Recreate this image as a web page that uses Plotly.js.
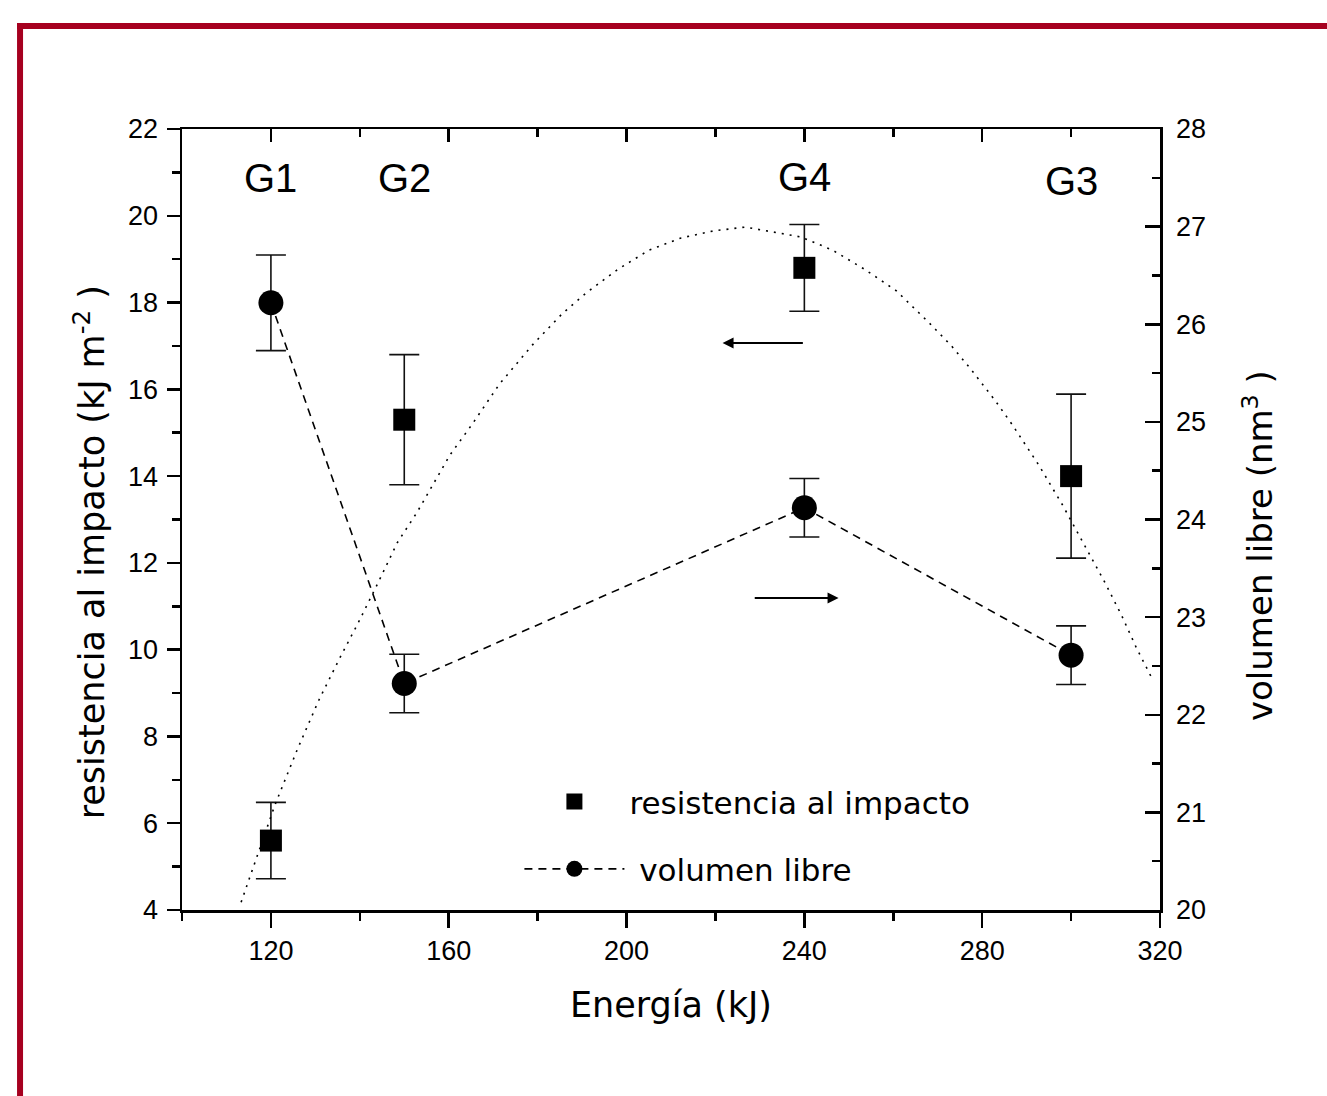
<!DOCTYPE html>
<html>
<head>
<meta charset="utf-8">
<script src="https://cdn.plot.ly/plotly-3.0.1.min.js"></script>
<style>html,body{margin:0;padding:0;background:#fff;}#chart{width:1327px;height:1096px;}</style>
</head>
<body>
<div id="chart"></div>
<script>
// Data
const energia = [120, 150, 240, 300];
const resistencia = [5.6, 15.3, 18.8, 14.0];
const resistenciaErr = [0.88, 1.5, 1.0, 1.89];
const volumen = [26.22, 22.32, 24.12, 22.61];
const volumenErr = [0.49, 0.3, 0.3, 0.3];

// Dotted guide curve (left axis units)
const curvaX = [113.3,116.4,120.9,125.9,130.8,135.6,139.6,144.1,148.4,152.9,160.3,165.3,171.4,178.8,185.5,190.9,198.1,205.1,212.3,219.5,226.7,239.3,246.3,253.5,260.7,267.9,273.1,277.4,283.0,286.8,292.7,298.1,303.9,307.8,311.4,314.7,318.3];
const curvaY = [4.18,5.11,6.42,7.69,8.84,9.83,10.61,11.54,12.46,13.17,14.49,15.20,16.12,17.02,17.74,18.22,18.77,19.21,19.49,19.65,19.74,19.51,19.21,18.77,18.27,17.55,17.00,16.47,15.73,15.18,14.26,13.33,12.25,11.51,10.78,10.04,9.32];

const grupos = ['G1', 'G2', 'G4', 'G3'];
const grupoX = [120, 150, 240, 300];
const grupoY = [20.87, 20.87, 20.9, 20.8];

const FONT = 'Liberation Sans, Arial, sans-serif';
const WIDE = 'DejaVu Sans, Verdana, sans-serif';

const traces = [
  {
    x: curvaX, y: curvaY, xaxis: 'x2', yaxis: 'y',
    mode: 'lines', showlegend: false, hoverinfo: 'skip',
    line: {color: '#000', width: 1.6, dash: '2px,6px'}
  },
  {
    x: energia, y: resistencia, xaxis: 'x', yaxis: 'y',
    name: 'resistencia al impacto', legendgroup: 'a',
    mode: 'markers',
    marker: {symbol: 'square', size: 22, color: '#000'},
    error_y: {type: 'data', array: resistenciaErr, visible: true, color: '#111', thickness: 1.6, width: 15}
  },
  {
    x: energia, y: volumen, xaxis: 'x', yaxis: 'y2',
    name: '\u00a0volumen libre', legendgroup: 'b',
    mode: 'lines+markers',
    line: {color: '#000', width: 1.6, dash: '8px,6px'},
    marker: {symbol: 'circle', size: 25, color: '#000'},
    error_y: {type: 'data', array: volumenErr, visible: true, color: '#111', thickness: 1.6, width: 15}
  }
];

const annotations = grupos.map((g, i) => ({
  x: grupoX[i], y: grupoY[i], xref: 'x', yref: 'y', text: g, showarrow: false,
  font: {family: FONT, size: 40, color: '#000'}, xanchor: 'center', yanchor: 'middle'
}));

annotations.push(
  {x: 221.6, y: 17.07, ax: 240, ay: 17.07, xref: 'x', yref: 'y', axref: 'x', ayref: 'y',
   text: '', showarrow: true, arrowhead: 2, arrowsize: 1.1, arrowwidth: 2, arrowcolor: '#000'},
  {x: 247.7, y: 11.19, ax: 228.5, ay: 11.19, xref: 'x', yref: 'y', axref: 'x', ayref: 'y',
   text: '', showarrow: true, arrowhead: 2, arrowsize: 1.1, arrowwidth: 2, arrowcolor: '#000'},
  {x: -0.094, y: 0.458, xref: 'paper', yref: 'paper', textangle: -90, showarrow: false,
   text: 'resistencia al impacto (kJ m<sup>-2</sup> )', xanchor: 'center', yanchor: 'middle',
   font: {family: WIDE, size: 35, color: '#000'}},
  {x: 1.1, y: 0.467, xref: 'paper', yref: 'paper', textangle: -90, showarrow: false,
   text: 'volumen libre (nm<sup>3</sup> )', xanchor: 'center', yanchor: 'middle',
   font: {family: WIDE, size: 34, color: '#000'}}
);

const axisCommon = {
  showgrid: false, zeroline: false, showline: true, linecolor: '#000', linewidth: 2.5,
  tickcolor: '#000', tickwidth: 2.5,
  tickfont: {family: FONT, size: 27, color: '#000'}
};

const layout = {
  width: 1327, height: 1096,
  margin: {l: 182, r: 167, t: 129, b: 186},
  paper_bgcolor: '#fff', plot_bgcolor: 'rgba(0,0,0,0)',
  font: {family: FONT, color: '#000'},
  xaxis: Object.assign({}, axisCommon, {
    range: [100, 320], tick0: 120, dtick: 40, ticks: 'outside', ticklen: 15,
    minor: {dtick: 20, tick0: 100, ticks: 'outside', ticklen: 8, tickcolor: '#000', tickwidth: 2.5},
    title: {text: 'Energía (kJ)', font: {family: WIDE, size: 35, color: '#000'}, standoff: 28}
  }),
  xaxis2: Object.assign({}, axisCommon, {
    range: [100, 320], overlaying: 'x', side: 'top', anchor: 'y', matches: 'x',
    tick0: 120, dtick: 40, ticks: 'inside', ticklen: 13, showticklabels: false,
    minor: {dtick: 20, tick0: 100, ticks: 'inside', ticklen: 8, tickcolor: '#000', tickwidth: 2.5}
  }),
  yaxis: Object.assign({}, axisCommon, {
    range: [4, 22], dtick: 2, ticks: 'outside', ticklen: 13, ticklabelstandoff: 3,
    minor: {dtick: 1, ticks: 'outside', ticklen: 8, tickcolor: '#000', tickwidth: 2.5}
  }),
  yaxis2: Object.assign({}, axisCommon, {
    range: [20, 28], dtick: 1, overlaying: 'y', side: 'right', anchor: 'x',
    ticks: 'inside', ticklen: 15, ticklabelstandoff: 8,
    minor: {dtick: 0.5, ticks: 'inside', ticklen: 8, tickcolor: '#000', tickwidth: 2.5}
  }),
  showlegend: true,
  legend: {
    x: 0.345, y: 0.173, xanchor: 'left', yanchor: 'top',
    bgcolor: 'rgba(0,0,0,0)', borderwidth: 0,
    font: {family: WIDE, size: 31, color: '#000'},
    itemwidth: 100, traceorder: 'grouped', tracegroupgap: 24, itemsizing: 'trace'
  },
  annotations: annotations,
  shapes: [
    {type: 'line', xref: 'paper', yref: 'paper', x0: -0.1687, x1: 1.2, y0: 1.1319, y1: 1.1319,
     line: {color: '#a6001f', width: 6}},
    {type: 'line', xref: 'paper', yref: 'paper', x0: -0.1656, x1: -0.1656, y0: 1.1357, y1: -0.26,
     line: {color: '#a6001f', width: 6}}
  ]
};

Plotly.newPlot('chart', traces, layout, {displayModeBar: false, staticPlot: true});
</script>
</body>
</html>
